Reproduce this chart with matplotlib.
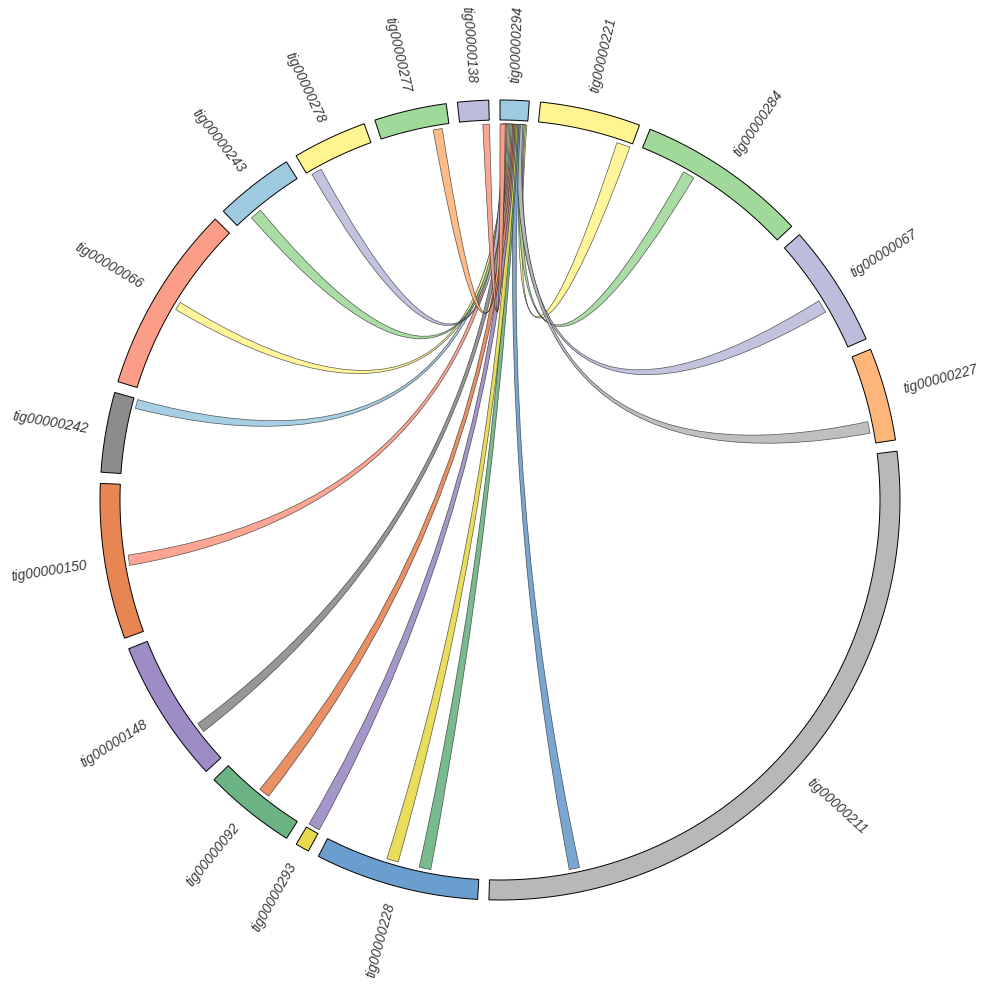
import numpy as np
import matplotlib
matplotlib.use('Agg')
import matplotlib.pyplot as plt
from matplotlib.path import Path
from matplotlib.patches import PathPatch, Polygon
from matplotlib.colors import to_rgba

# ---------------- data ----------------
names = ['tig00000294', 'tig00000221', 'tig00000284', 'tig00000067', 'tig00000227',
         'tig00000211', 'tig00000228', 'tig00000293', 'tig00000092', 'tig00000148',
         'tig00000150', 'tig00000242', 'tig00000066', 'tig00000243', 'tig00000278',
         'tig00000277', 'tig00000138']
sizes = [4.2, 14.6, 24.8, 17.8, 13.5, 98.6, 23.8, 2.0, 13.4, 20.9,
         22.6, 11.6, 27.4, 11.5, 10.8, 10.5, 4.5]
seg_colors = ['#9ecae1', '#fff48f', '#a1d99b', '#bcbddc', '#fdb57a',
              '#b8b8b8', '#6a9ece', '#e8da4a', '#6bb383', '#9d8cc6',
              '#e78553', '#8c8c8c', '#fc9d87', '#9ecae1', '#fff48f',
              '#a1d99b', '#bcbddc']

hub = 'tig00000294'
link_src = ['tig00000221', 'tig00000284', 'tig00000067', 'tig00000227', 'tig00000211',
            'tig00000228', 'tig00000228', 'tig00000293', 'tig00000092', 'tig00000148',
            'tig00000150', 'tig00000242', 'tig00000066', 'tig00000243', 'tig00000278',
            'tig00000277', 'tig00000138']
link_src_start = [12.3, 7.2, 9.55, 10.1, 84.8, 7.4, 12.5, 0.1, 5.76, 4.74,
                  10.2, 10.1, 13.2, 2.4, 0.65, 8.0, 3.5]
link_src_end = [14.4, 9.0, 11.55, 11.9, 86.4, 9.2, 14.3, 1.9, 7.46, 6.24,
                11.8, 11.5, 14.5, 4.2, 2.25, 9.4, 4.5]
link_hub_start = [3.3, 3.1, 2.9, 2.7, 2.3, 2.1, 1.9, 1.7, 1.5, 1.3,
                  1.1, 0.9, 0.7, 0.5, 0.3, 0.15, 0.0]
link_hub_end = [4.1, 3.9, 3.7, 3.5, 3.1, 2.9, 2.7, 2.5, 2.3, 2.1,
                1.9, 1.7, 1.5, 1.3, 1.1, 0.95, 0.8]
link_colors = ['#fff48f', '#a1d99b', '#bcbddc', '#b8b8b8', '#6a9ece',
               '#6bb383', '#e8da4a', '#9d8cc6', '#e78553', '#8c8c8c',
               '#fc9d87', '#9ecae1', '#fff48f', '#a1d99b', '#bcbddc',
               '#fdb57a', '#fc9d87']

# ---------------- layout ----------------
R_OUT, R_IN, R_LINK, R_LABEL = 400, 380, 376, 418
gap = (360.0 - sum(sizes)) / len(sizes)
starts = {}
pos = 0.0
for n, s in zip(names, sizes):
    starts[n] = pos
    pos += s + gap


def xy(theta, r):
    t = np.radians(theta)
    return r * np.sin(t), r * np.cos(t)


def arc(a0, a1, r, n=60):
    th = np.linspace(a0, a1, n)
    return np.column_stack(xy(th, r))


fig = plt.figure(figsize=(10, 10), dpi=100)
ax = fig.add_axes([0, 0, 1, 1])
ax.set_xlim(-500, 500)
ax.set_ylim(-500, 500)
ax.set_aspect('equal')
ax.axis('off')

# ribbons
for src, s0, s1, h0, h1, col in zip(link_src, link_src_start, link_src_end,
                                     link_hub_start, link_hub_end, link_colors):
    a0 = starts[src] + s0
    a1 = starts[src] + s1
    b0 = starts[hub] + h0
    b1 = starts[hub] + h1
    arcA = arc(a0, a1, R_LINK, 20)
    arcB = arc(b0, b1, R_LINK, 10)
    verts = list(arcA)
    codes = [Path.MOVETO] + [Path.LINETO] * (len(arcA) - 1)
    verts += [(0, 0), tuple(arcB[0])]
    codes += [Path.CURVE3, Path.CURVE3]
    verts += list(arcB[1:])
    codes += [Path.LINETO] * (len(arcB) - 1)
    verts += [(0, 0), tuple(arcA[0])]
    codes += [Path.CURVE3, Path.CURVE3]
    verts.append(tuple(arcA[0]))
    codes.append(Path.CLOSEPOLY)
    p = PathPatch(Path(verts, codes), facecolor=to_rgba(col, 0.9),
                  edgecolor=(0.1, 0.1, 0.1, 0.7), lw=0.5, zorder=2)
    ax.add_patch(p)

# segments + labels
for n, s, col in zip(names, sizes, seg_colors):
    a0 = starts[n]
    a1 = a0 + s
    outer = arc(a0, a1, R_OUT, 80)
    inner = arc(a1, a0, R_IN, 80)
    poly = Polygon(np.vstack([outer, inner]), closed=True, facecolor=col,
                   edgecolor='black', lw=0.7, zorder=3)
    ax.add_patch(poly)
    mid = (a0 + a1) / 2.0
    x, y = xy(mid, R_LABEL)
    if mid < 180:
        rot, ha = 90 - mid, 'left'
    else:
        rot, ha = 270 - mid, 'right'
    ax.text(x, y, n, rotation=rot, rotation_mode='anchor', ha=ha, va='center',
            fontsize=10, family='Liberation Sans', style='italic', color='#3a3a3a',
            zorder=4)

fig.savefig('out.png', dpi=100, facecolor='white')
